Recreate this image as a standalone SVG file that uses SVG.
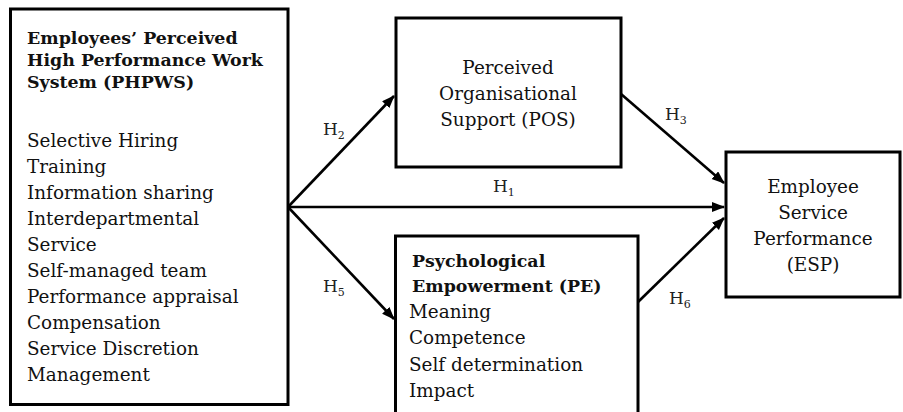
<svg xmlns="http://www.w3.org/2000/svg" width="903" height="412" viewBox="0 0 903 412">
<style>
.box{fill:#fff;stroke:#000;stroke-width:3}
.t{font-family:"DejaVu Serif","Liberation Serif",serif;font-size:18.4px;fill:#111}
.b{font-family:"DejaVu Serif","Liberation Serif",serif;font-size:17.4px;font-weight:bold;fill:#111}
.c{text-anchor:middle}
.lbl{font-family:"DejaVu Serif","Liberation Serif",serif;font-size:17px;fill:#222}
.sub{font-size:11px}
.con{stroke:#000;stroke-width:2.6;fill:none;marker-end:url(#ah)}
</style>
<defs>
<marker id="ah" markerUnits="userSpaceOnUse" markerWidth="14" markerHeight="11" refX="12" refY="5" orient="auto">
<path d="M0,0 L13,5 L0,10 z" fill="#000"/>
</marker>
</defs>
<g id="phpws">
<rect class="box" x="10.5" y="9" width="277.5" height="395.5"/>
<text class="b" x="27" y="44">Employees’ Perceived</text>
<text class="b" x="27" y="66">High Performance Work</text>
<text class="b" x="27" y="88">System (PHPWS)</text>
<text class="t" x="27" y="147">Selective Hiring</text>
<text class="t" x="27" y="173">Training</text>
<text class="t" x="27" y="199">Information sharing</text>
<text class="t" x="27" y="225">Interdepartmental</text>
<text class="t" x="27" y="251">Service</text>
<text class="t" x="27" y="277">Self-managed team</text>
<text class="t" x="27" y="303">Performance appraisal</text>
<text class="t" x="27" y="329">Compensation</text>
<text class="t" x="27" y="355">Service Discretion</text>
<text class="t" x="27" y="381">Management</text>
</g>
<g id="pos">
<rect class="box" x="396" y="18" width="225" height="149"/>
<text class="t c" x="508" y="74">Perceived</text>
<text class="t c" x="508" y="100">Organisational</text>
<text class="t c" x="508" y="126">Support (POS)</text>
</g>
<g id="pe">
<rect class="box" x="395.5" y="236" width="242.5" height="190"/>
<text class="b" x="412" y="267">Psychological</text>
<text class="b" x="412" y="292">Empowerment (PE)</text>
<text class="t" x="409" y="318">Meaning</text>
<text class="t" x="409" y="344">Competence</text>
<text class="t" x="409" y="371">Self determination</text>
<text class="t" x="409" y="397">Impact</text>
</g>
<g id="esp">
<rect class="box" x="726" y="152" width="174" height="145"/>
<text class="t c" x="813" y="193">Employee</text>
<text class="t c" x="813" y="219">Service</text>
<text class="t c" x="813" y="245">Performance</text>
<text class="t c" x="813" y="271">(ESP)</text>
</g>
<g id="connectors">
<line class="con" x1="288" y1="207" x2="394" y2="96"/>
<line class="con" x1="288" y1="207" x2="724" y2="207"/>
<line class="con" x1="288" y1="207" x2="394" y2="319"/>
<line class="con" x1="621" y1="94" x2="724" y2="183"/>
<line class="con" x1="638" y1="302" x2="724" y2="218"/>
<text class="lbl" x="323" y="135">H<tspan class="sub" dy="4">2</tspan></text>
<text class="lbl" x="493" y="192">H<tspan class="sub" dy="4">1</tspan></text>
<text class="lbl" x="323" y="292">H<tspan class="sub" dy="4">5</tspan></text>
<text class="lbl" x="665" y="120">H<tspan class="sub" dy="4">3</tspan></text>
<text class="lbl" x="669" y="304">H<tspan class="sub" dy="4">6</tspan></text>
</g>
</svg>
